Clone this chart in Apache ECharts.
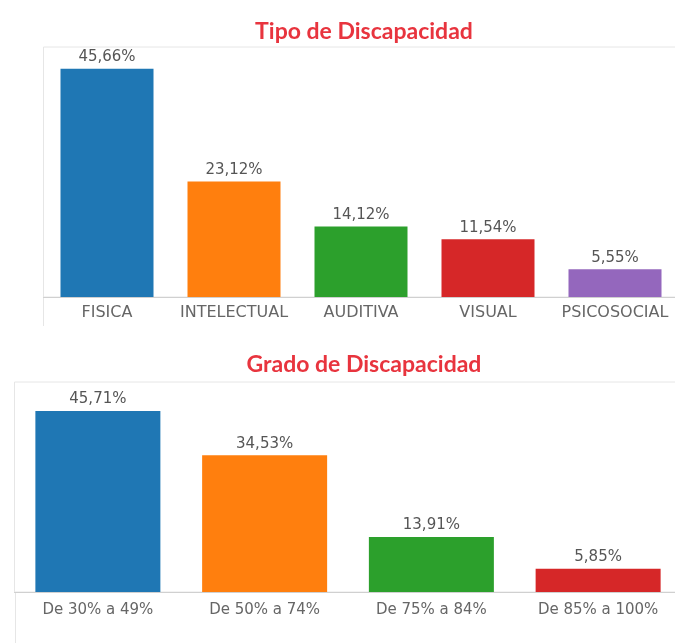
<!DOCTYPE html>
<html>
<head>
<meta charset="utf-8">
<script src="https://cdn.jsdelivr.net/npm/echarts@6/dist/echarts.min.js"></script>
<style>html,body{margin:0;padding:0;background:#fff;overflow:hidden;}#c{width:700px;height:643px;}</style>
</head>
<body>
<div id="c"></div>
<script>
const tipoCategories = ['FISICA', 'INTELECTUAL', 'AUDITIVA', 'VISUAL', 'PSICOSOCIAL'];
const tipoValues = [45.66, 23.12, 14.12, 11.54, 5.55];
const gradoCategories = ['De 30% a 49%', 'De 50% a 74%', 'De 75% a 84%', 'De 85% a 100%'];
const gradoValues = [45.71, 34.53, 13.91, 5.85];
const palette = ['#1f77b4', '#ff7f0e', '#2ca02c', '#d62728', '#9467bd'];
const titles = ['Tipo de Discapacidad', 'Grado de Discapacidad'];

const fmt = p => p.value.toFixed(2).replace('.', ',') + '%';
const chart = echarts.init(document.getElementById('c'), null, {renderer: 'canvas'});
const frame = '#e6e6e6';
const txt = 'DejaVu Sans';
chart.setOption({
  animation: false,
  color: palette,
  title: [
    {text: titles[0], left: 359, top: 15, textAlign: 'center',
     textStyle: {color: '#e8343e', fontSize: 23, fontWeight: 'bold', fontFamily: 'Lato'}},
    {text: titles[1], left: 359, top: 348, textAlign: 'center',
     textStyle: {color: '#e8343e', fontSize: 23, fontWeight: 'bold', fontFamily: 'Lato'}}
  ],
  grid: [
    {left: 43.5, top: 47, width: 635, height: 250, show: true, borderColor: frame, borderWidth: 1},
    {left: 14.5, top: 382, width: 667, height: 210, show: true, borderColor: frame, borderWidth: 1}
  ],
  xAxis: [
    {type: 'category', gridIndex: 0, data: tipoCategories,
     axisLine: {lineStyle: {color: '#d0d0d0'}}, axisTick: {show: false},
     axisLabel: {color: '#666', fontSize: 16, margin: 8, interval: 0, fontFamily: txt}},
    {type: 'category', gridIndex: 1, data: gradoCategories,
     axisLine: {lineStyle: {color: '#d0d0d0'}}, axisTick: {show: false},
     axisLabel: {color: '#666', fontSize: 15, margin: 11, interval: 0, fontFamily: txt}}
  ],
  yAxis: [
    {type: 'value', gridIndex: 0, min: 0, max: 50, show: false},
    {type: 'value', gridIndex: 1, min: 0, max: 53, show: false}
  ],
  graphic: [
    {type: 'line', shape: {x1: 43.5, y1: 297, x2: 43.5, y2: 326}, style: {stroke: frame, lineWidth: 1}},
    {type: 'line', shape: {x1: 15.5, y1: 592, x2: 15.5, y2: 643}, style: {stroke: frame, lineWidth: 1}}
  ],
  series: [
    {type: 'bar', xAxisIndex: 0, yAxisIndex: 0, data: tipoValues, colorBy: 'data',
     barWidth: 93,
     label: {show: true, position: 'top', distance: 4, color: '#555', fontSize: 15,
             fontFamily: txt, formatter: fmt}},
    {type: 'bar', xAxisIndex: 1, yAxisIndex: 1, data: gradoValues, colorBy: 'data',
     barWidth: 125,
     label: {show: true, position: 'top', distance: 4, color: '#555', fontSize: 15,
             fontFamily: txt, formatter: fmt}}
  ]
});
</script>
</body>
</html>
